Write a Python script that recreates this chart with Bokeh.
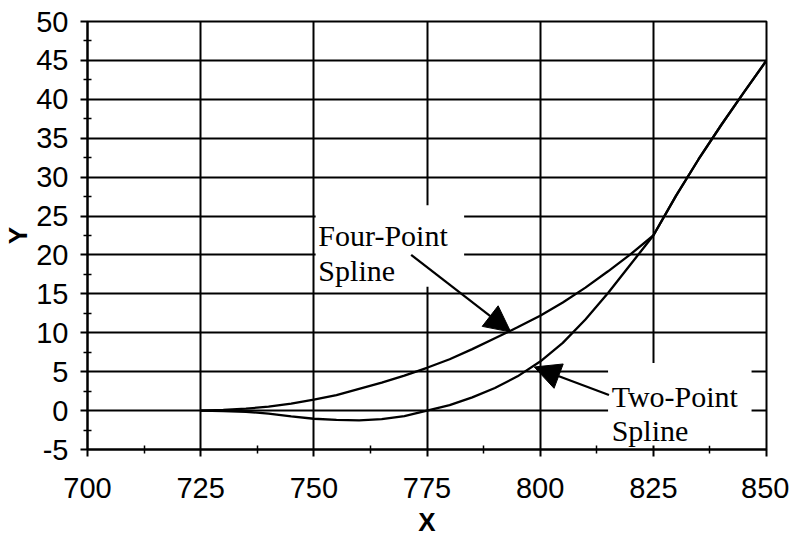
from bokeh.plotting import figure
from bokeh.models import FixedTicker, Label, Arrow, NormalHead, BoxAnnotation
from bokeh.embed import file_html
from bokeh.resources import INLINE

# ---- data ----
four_x = [725, 730, 735, 740, 745, 750, 755, 760, 765, 770, 775, 780, 785, 790, 795,
          800, 805, 810, 815, 820, 825, 830, 835, 840, 845, 850]
four_y = [0, 0.1, 0.25, 0.5, 0.9, 1.4, 2.0, 2.8, 3.6, 4.5, 5.5, 6.6, 7.9, 9.3, 10.7,
          12.2, 13.9, 15.8, 17.9, 20.1, 22.5, 27.6, 32.3, 36.7, 40.9, 45.0]

two_x = [725, 730, 735, 740, 745, 750, 755, 760, 765, 770, 775, 780, 785, 790, 795,
         800, 805, 810, 815, 820, 825, 830, 835, 840, 845, 850]
two_y = [0, -0.05, -0.15, -0.4, -0.75, -1.05, -1.2, -1.25, -1.1, -0.7, 0, 0.7, 1.7, 2.9, 4.4,
         6.3, 8.7, 11.7, 15.1, 18.8, 22.5, 27.6, 32.3, 36.7, 40.9, 45.0]

x_ticks = [700, 725, 750, 775, 800, 825, 850]
x_minor = [712.5, 737.5, 762.5, 787.5, 812.5, 837.5]
y_ticks = [-5, 0, 5, 10, 15, 20, 25, 30, 35, 40, 45, 50]
y_minor = [-2.5, 2.5, 7.5, 12.5, 17.5, 22.5, 27.5, 32.5, 37.5, 42.5, 47.5]

four_label = ["Four-Point", "Spline"]
two_label = ["Two-Point", "Spline"]

p = figure(width=789, height=539, output_backend="svg", toolbar_location=None,
           x_range=(700, 850), y_range=(-5, 50),
           min_border_left=87, min_border_right=23, min_border_top=21, min_border_bottom=89)
p.background_fill_color = "white"
p.border_fill_color = "white"
p.outline_line_color = "black"
p.outline_line_width = 2

for ax, ticks, minor in ((p.xaxis[0], x_ticks, x_minor), (p.yaxis[0], y_ticks, y_minor)):
    ax.ticker = FixedTicker(ticks=ticks, minor_ticks=minor)
    ax.major_label_overrides = {t: str(t) for t in ticks}
    ax.axis_line_color = "black"
    ax.axis_line_width = 2
    ax.major_tick_line_color = "black"
    ax.major_tick_line_width = 2
    ax.major_tick_in = 0
    ax.major_tick_out = 7
    ax.minor_tick_line_color = "black"
    ax.minor_tick_line_width = 1.5
    ax.minor_tick_in = 4
    ax.minor_tick_out = 4
    ax.major_label_text_font = "Liberation Sans"
    ax.major_label_text_font_size = "29px"
    ax.major_label_text_color = "black"
    ax.axis_label_text_font = "Liberation Sans"
    ax.axis_label_text_font_style = "bold"
    ax.axis_label_text_font_size = "26px"
    ax.axis_label_text_color = "black"

p.xaxis.axis_label = "X"
p.yaxis.axis_label = "Y"
p.xaxis.major_label_standoff = 21
p.xaxis.axis_label_standoff = 6
p.yaxis.major_label_standoff = 12
p.yaxis.axis_label_standoff = 0

for g in (p.xgrid[0], p.ygrid[0]):
    g.grid_line_color = "black"
    g.grid_line_width = 2
    g.grid_line_alpha = 1.0

p.line(four_x, four_y, line_color="black", line_width=2.3)
p.line(two_x, two_y, line_color="black", line_width=2.3)

# white patches behind the callout text
p.add_layout(BoxAnnotation(left=750.4, right=783.2, bottom=15.9, top=26.4,
                           fill_color="white", fill_alpha=1.0, line_alpha=0))
p.add_layout(BoxAnnotation(left=815.0, right=846.7, bottom=-4.5, top=6.1,
                           fill_color="white", fill_alpha=1.0, line_alpha=0))

for txt, yy in zip(four_label, [22.5, 18.0]):
    p.add_layout(Label(x=751.0, y=yy, text=txt, text_font="Liberation Serif",
                       text_font_size="30px", text_color="black", text_baseline="alphabetic"))
for txt, yy in zip(two_label, [1.8, -2.5]):
    p.add_layout(Label(x=815.8, y=yy, text=txt, text_font="Liberation Serif",
                       text_font_size="30px", text_color="black", text_baseline="alphabetic"))

p.add_layout(Arrow(x_start=771.5, y_start=20.0, x_end=793.5, y_end=10.1,
                   line_color="black", line_width=2.3,
                   end=NormalHead(size=26, fill_color="black", line_color="black")))
p.add_layout(Arrow(x_start=815.2, y_start=2.0, x_end=798.7, y_end=5.6,
                   line_color="black", line_width=2.3,
                   end=NormalHead(size=26, fill_color="black", line_color="black")))

open("out.html", "w").write(file_html(p, INLINE))
